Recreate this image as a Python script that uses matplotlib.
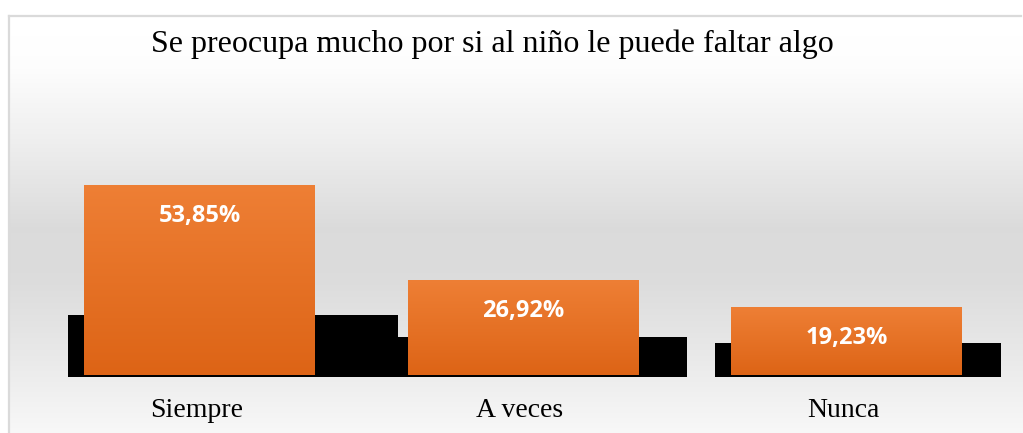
import numpy as np
import matplotlib.pyplot as plt
from matplotlib.patches import Rectangle
from matplotlib.colors import LinearSegmentedColormap

categories = ['Siempre', 'A veces', 'Nunca']
values = [53.85, 26.92, 19.23]
labels = ['53,85%', '26,92%', '19,23%']
title = 'Se preocupa mucho por si al niño le puede faltar algo'

W, H = 1023, 433
fig = plt.figure(figsize=(W / 100, H / 100), dpi=100)
fig.patch.set_facecolor('white')

# chart area background: white -> grey -> white vertical gradient
bg = fig.add_axes([8 / W, -0.02, 1.0, (H - 15) / H + 0.02])
stops_pos = [0.0, 0.12, 0.3, 0.5, 0.62, 0.8, 1.0]
stops_val = [1.0, 0.99, 0.93, 0.855, 0.86, 0.91, 0.975]
n = 430
g = np.interp(np.linspace(0, 1, n), stops_pos, stops_val)[::-1]
bg.pcolormesh([0, 1], np.linspace(0, 1, n + 1), g[:, None], cmap='gray',
              vmin=0, vmax=1, shading='flat')
bg.set_xlim(0, 1)
bg.set_ylim(0, 1)
bg.axis('off')
bg.plot([0.0008, 0.0008], [0, 0.998], color='#dadada', lw=1.6, clip_on=False)
bg.plot([0.0008, 0.99], [0.998, 0.998], color='#dadada', lw=1.6, clip_on=False)

# main axes, pixel geometry: base at y=375, 3.53 px per percent
px_per = 3.53
unit = 323.5
ax = fig.add_axes([0, (H - 380) / H, 1, 320 / H])
ax.patch.set_alpha(0)

x = np.arange(len(values))
bw = 231 / unit

# black "shadows" behind the bars
for xi, v in zip(x, values):
    left = xi - bw / 2 - 16 / unit
    right = xi + bw / 2 + 0.0448 + 0.00393 * v
    top = 4.65 + 0.23 * v
    ax.add_patch(Rectangle((left, -2 / px_per), right - left, top + 2 / px_per,
                           facecolor='black', edgecolor='none', zorder=1))

bars = ax.bar(x, values, width=bw, color='#e87228', zorder=2)

orange = LinearSegmentedColormap.from_list('org', ['#dd6416', '#ee7f35'])
grad = np.linspace(0, 1, 100)[:, None]
for b in bars:
    x0, y0 = b.get_x(), b.get_y()
    im = ax.imshow(grad, cmap=orange, origin='lower', aspect='auto',
                   extent=[x0, x0 + b.get_width(), y0, y0 + b.get_height()],
                   zorder=3, interpolation='bilinear')
    im.set_clip_path(b)

ax.set_xlim(-199.5 / unit, (W - 199.5) / unit)
ax.set_ylim(-5 / px_per, 315 / px_per)

for xi, v, lab in zip(x, values, labels):
    ax.text(xi, v - 31 / px_per, lab, ha='center', va='center', color='white',
            fontsize=17, fontweight='bold', family='Open Sans', zorder=4)

ax.set_xticks(x - 3 / unit)
ax.set_xticklabels(categories, family='Liberation Serif', fontsize=20)
ax.tick_params(axis='x', length=0, pad=13)
ax.set_yticks([])
for s in ax.spines.values():
    s.set_visible(False)

fig.text(492 / W, 1 - 44 / H, title, ha='center', va='center',
         family='Liberation Serif', fontsize=23)

fig.savefig('out.png', dpi=100)
